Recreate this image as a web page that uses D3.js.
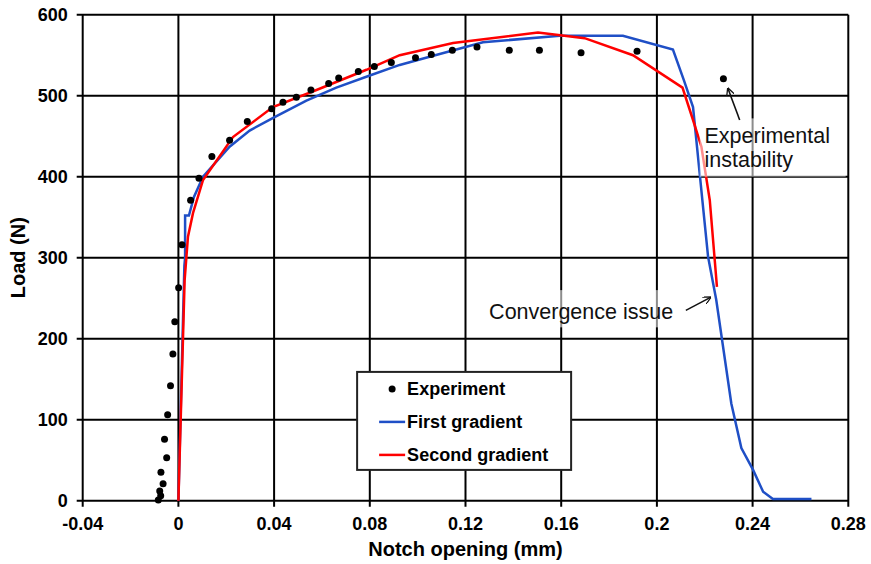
<!DOCTYPE html>
<html>
<head>
<meta charset="utf-8">
<script src="https://cdn.jsdelivr.net/npm/d3@7"></script>
<style>
  body { margin: 0; background: #fff; }
  svg { font-family: "Liberation Sans", Arial, sans-serif; }
</style>
</head>
<body>
<div id="chart"></div>
<script>
// Load vs notch opening

// Experiment (dots)
var expX = [-0.0084, -0.0074, -0.0078, -0.0064, -0.0073, -0.0049, -0.0058, -0.0045, -0.0033, -0.0023, -0.0015, 0.0001,
  0.0015, 0.0051, 0.0086, 0.014, 0.0214, 0.0288, 0.039, 0.0437, 0.0493, 0.0554, 0.0628, 0.067, 0.0752, 0.0819,
  0.089, 0.0991, 0.1057, 0.1145, 0.1248, 0.1383, 0.1509, 0.1683, 0.1917, 0.2278]
var expY = [1, 6, 12, 21, 35, 53, 76, 106, 142, 181, 221, 263,
  316, 371, 398, 425, 445, 468, 484, 492, 498, 507, 515, 522, 530, 536,
  541, 547, 551, 556, 560, 556, 556, 553, 555, 521]

// First gradient (blue)
var firstX = [0, 0.0025, 0.0028, 0.0028, 0.0044, 0.0065, 0.0103, 0.0214, 0.0298, 0.0398, 0.0535, 0.066, 0.08, 0.0925,
  0.105, 0.1273, 0.1594, 0.1858, 0.2067, 0.2113, 0.2151, 0.219, 0.2214, 0.2248, 0.2311, 0.2353, 0.2402, 0.2444,
  0.2485, 0.2646]
var firstY = [0, 290, 300, 352, 352, 375, 400, 437, 457, 473, 494, 510, 525, 538,
  548, 566, 574, 574, 557, 519, 486, 371, 301, 248, 120, 65, 38, 11,
  2, 2]

// Second gradient (red)
var secondX = [0, 0.0026, 0.004, 0.0061, 0.0103, 0.0228, 0.0395, 0.0577, 0.0786, 0.0925, 0.1148, 0.1503, 0.1698,
  0.19, 0.2107, 0.2151, 0.2186, 0.2221, 0.2251]
var secondY = [0, 272, 326, 355, 396, 449, 486, 507, 532, 550, 565, 578, 571,
  550, 510, 470, 437, 371, 264]

var xTicks = [-0.04, 0, 0.04, 0.08, 0.12, 0.16, 0.2, 0.24, 0.28]
var xTickLabels = ['-0.04', '0', '0.04', '0.08', '0.12', '0.16', '0.2', '0.24', '0.28']
var yTicks = [0, 100, 200, 300, 400, 500, 600]

var width = 871
var height = 564
var margin = { top: 14.7, right: 22.7, bottom: 63.3, left: 82.7 }
var w = width - margin.left - margin.right
var h = height - margin.top - margin.bottom

var blue = '#1f4fc6'
var red = '#ff0000'

var x = d3.scaleLinear().domain([-0.04, 0.28]).range([0, w])
var y = d3.scaleLinear().domain([0, 600]).range([h, 0])

var svg = d3.select('#chart').append('svg')
  .attr('width', width)
  .attr('height', height)

svg.append('defs').append('marker')
  .attr('id', 'arrow')
  .attr('viewBox', '0 0 10 10')
  .attr('refX', 9).attr('refY', 5)
  .attr('markerWidth', 8).attr('markerHeight', 8)
  .attr('markerUnits', 'userSpaceOnUse')
  .attr('orient', 'auto')
  .append('path')
  .attr('d', 'M0,0 L10,5 L0,10')
  .attr('fill', 'none')
  .attr('stroke', '#111')
  .attr('stroke-width', 1.6)

var g = svg.append('g').attr('transform', `translate(${margin.left}, ${margin.top})`)

// gridlines
g.selectAll('.vgrid').data(xTicks).enter().append('line')
  .attr('x1', d => x(d)).attr('x2', d => x(d))
  .attr('y1', 0).attr('y2', h + 6)
  .attr('stroke', '#000').attr('stroke-width', 2)

g.selectAll('.hgrid').data(yTicks).enter().append('line')
  .attr('x1', -6).attr('x2', w)
  .attr('y1', d => y(d)).attr('y2', d => y(d))
  .attr('stroke', '#000').attr('stroke-width', 2)

// tick labels
g.selectAll('.xlab').data(xTicks).enter().append('text')
  .attr('x', d => x(d)).attr('y', h + 29)
  .attr('text-anchor', 'middle')
  .attr('font-size', 18).attr('font-weight', 'bold')
  .text((d, i) => xTickLabels[i])

g.selectAll('.ylab').data(yTicks).enter().append('text')
  .attr('x', -15).attr('y', d => y(d))
  .attr('dy', '0.35em')
  .attr('text-anchor', 'end')
  .attr('font-size', 18).attr('font-weight', 'bold')
  .text(d => d)

// axis titles
svg.append('text')
  .attr('x', margin.left + x(0.12)).attr('y', 556)
  .attr('text-anchor', 'middle')
  .attr('font-size', 20).attr('font-weight', 'bold')
  .text('Notch opening (mm)')

svg.append('text')
  .attr('transform', `translate(25, ${margin.top + y(300)}) rotate(-90)`)
  .attr('text-anchor', 'middle')
  .attr('font-size', 20).attr('font-weight', 'bold')
  .text('Load (N)')

// curves
var line = d3.line().x(d => x(d[0])).y(d => y(d[1]))

g.append('path')
  .datum(firstX.map((d, i) => [d, firstY[i]]))
  .attr('d', line)
  .attr('fill', 'none').attr('stroke', blue).attr('stroke-width', 2.5)

g.append('path')
  .datum(secondX.map((d, i) => [d, secondY[i]]))
  .attr('d', line)
  .attr('fill', 'none').attr('stroke', red).attr('stroke-width', 2.5)

g.selectAll('.dot').data(expX.map((d, i) => [d, expY[i]])).enter().append('circle')
  .attr('cx', d => x(d[0])).attr('cy', d => y(d[1]))
  .attr('r', 3.5).attr('fill', '#000')

// annotations (text boxes fade the lines behind them)
g.append('rect')
  .attr('x', x(0.2179)).attr('y', y(472))
  .attr('width', x(0.2789) - x(0.2179)).attr('height', y(400) - y(472))
  .attr('fill', '#fff').attr('opacity', 0.55)

g.append('rect')
  .attr('x', x(0.1235)).attr('y', y(260))
  .attr('width', x(0.2085) - x(0.1235)).attr('height', y(214) - y(260))
  .attr('fill', '#fff').attr('opacity', 0.55)

g.append('text')
  .attr('x', x(0.2199)).attr('y', y(451)).attr('dy', '0.35em')
  .attr('font-size', 21.5).attr('fill', '#111')
  .text('Experimental')
g.append('text')
  .attr('x', x(0.2199)).attr('y', y(421)).attr('dy', '0.35em')
  .attr('font-size', 21.5).attr('fill', '#111')
  .text('instability')

g.append('text')
  .attr('x', x(0.2068)).attr('y', y(233)).attr('dy', '0.35em')
  .attr('text-anchor', 'end')
  .attr('font-size', 21.5).attr('fill', '#111')
  .text('Convergence issue')

g.append('line')
  .attr('x1', x(0.2346)).attr('y1', y(470))
  .attr('x2', x(0.2297)).attr('y2', y(509))
  .attr('stroke', '#111').attr('stroke-width', 1.6)
  .attr('marker-end', 'url(#arrow)')

g.append('line')
  .attr('x1', x(0.2121)).attr('y1', y(235))
  .attr('x2', x(0.2224)).attr('y2', y(251))
  .attr('stroke', '#111').attr('stroke-width', 1.6)
  .attr('marker-end', 'url(#arrow)')

// legend
var legend = g.append('g').attr('transform', `translate(${x(0.0747)}, ${y(159)})`)
legend.append('rect')
  .attr('width', 214).attr('height', 98)
  .attr('fill', '#fff').attr('stroke', '#222').attr('stroke-width', 2)

var items = ['Experiment', 'First gradient', 'Second gradient']
items.forEach((name, i) => {
  var cy = 17 + i * 33
  if (i === 0) {
    legend.append('circle').attr('cx', 35).attr('cy', cy).attr('r', 3.5).attr('fill', '#000')
  } else {
    legend.append('line')
      .attr('x1', 22).attr('x2', 48).attr('y1', cy).attr('y2', cy)
      .attr('stroke', i === 1 ? blue : red).attr('stroke-width', 2.5)
  }
  legend.append('text')
    .attr('x', 50).attr('y', cy).attr('dy', '0.35em')
    .attr('font-size', 18).attr('font-weight', 'bold')
    .text(name)
})
</script>
</body>
</html>
